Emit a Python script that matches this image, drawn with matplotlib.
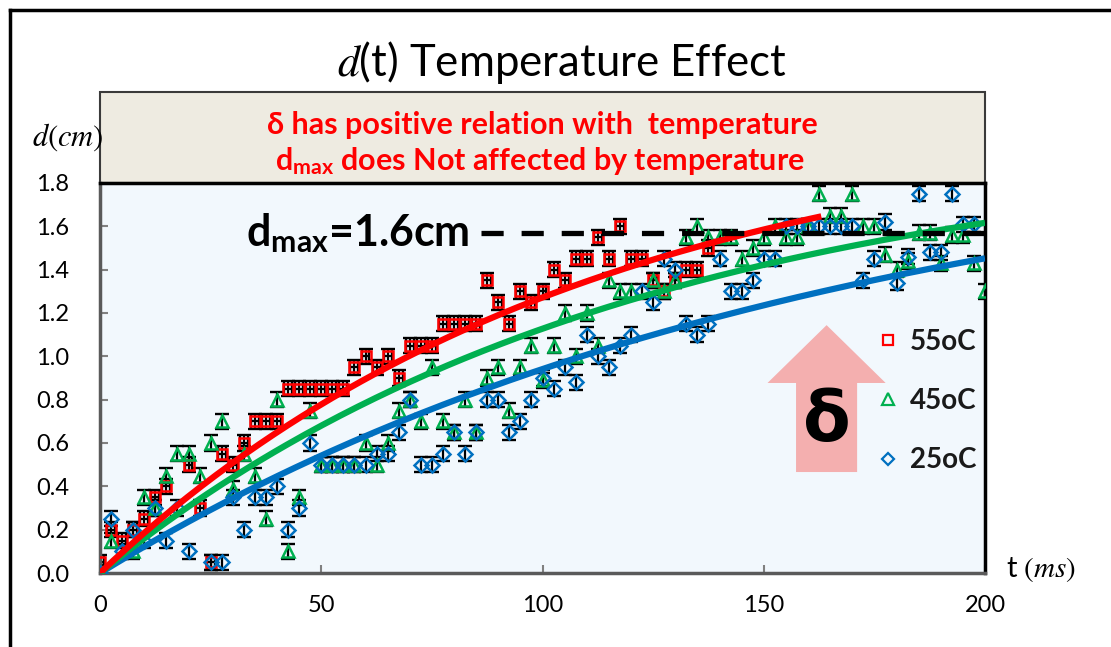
import matplotlib
matplotlib.use("Agg")
import matplotlib.pyplot as plt
import numpy as np
from matplotlib.lines import Line2D
from matplotlib.patches import Rectangle, FancyArrow

plt.rcParams['font.family'] = ['Lato', 'DejaVu Sans']
plt.rcParams['mathtext.fontset'] = 'custom'
plt.rcParams['mathtext.rm'] = 'STIXGeneral'
plt.rcParams['mathtext.it'] = 'STIXGeneral:italic'
plt.rcParams['mathtext.bf'] = 'Lato:bold'

# ---------------- data ----------------
t55 = [0, 2.5, 5, 7.5, 10, 12.5, 15, 20, 22.5, 25, 27.5, 30, 32.5, 35, 37.5, 40,
       42.5, 45, 47.5, 50, 52.5, 55, 57.5, 60, 62.5, 65, 67.5, 70, 72.5, 75,
       77.5, 80, 82.5, 85, 87.5, 90, 92.5, 95, 97.5, 100, 102.5, 105, 107.5, 110,
       112.5, 115, 117.5, 120, 122.5, 125, 127.5, 130, 132.5, 135, 137.5]
d55 = [0.05, 0.20, 0.15, 0.20, 0.25, 0.35, 0.40, 0.50, 0.30, 0.05, 0.55, 0.50, 0.60, 0.70, 0.70, 0.70,
       0.85, 0.85, 0.85, 0.85, 0.85, 0.85, 0.95, 1.00, 0.95, 1.00, 0.90, 1.05, 1.05, 1.05,
       1.15, 1.15, 1.15, 1.15, 1.35, 1.25, 1.15, 1.30, 1.25, 1.30, 1.40, 1.35, 1.45, 1.45,
       1.55, 1.45, 1.60, 1.45, 1.45, 1.35, 1.30, 1.35, 1.40, 1.40, 1.50]

t45 = [0, 2.5, 7.5, 10, 12.5, 15, 17.5, 20, 22.5, 25, 27.5, 30, 32.5, 35, 37.5, 40,
       42.5, 45, 47.5, 50, 52.5, 55, 57.5, 60, 62.5, 65, 67.5, 70, 72.5, 75,
       77.5, 80, 82.5, 85, 87.5, 90, 92.5, 95, 97.5, 100, 102.5, 105, 107.5, 110,
       112.5, 115, 117.5, 120, 125, 127.5, 130, 132.5, 135, 137.5, 140, 142.5, 145,
       147.5, 150, 152.5, 155, 157.5, 160, 162.5, 165, 167.5, 170, 172.5, 175, 177.5,
       180, 182.5, 185, 187.5, 190, 192.5, 195, 197.5, 200]
d45 = [0.00, 0.15, 0.10, 0.35, 0.30, 0.45, 0.55, 0.55, 0.45, 0.60, 0.70, 0.39, 0.55, 0.45, 0.25, 0.80,
       0.10, 0.35, 0.75, 0.50, 0.50, 0.50, 0.50, 0.60, 0.50, 0.60, 0.75, 0.80, 0.70, 0.95,
       0.70, 0.65, 0.80, 0.65, 0.90, 0.95, 0.75, 0.95, 1.05, 0.89, 1.05, 1.20, 1.00, 1.20,
       1.05, 1.35, 1.30, 1.30, 1.35, 1.30, 1.35, 1.55, 1.60, 1.55, 1.55, 1.55, 1.45,
       1.50, 1.55, 1.60, 1.55, 1.55, 1.60, 1.75, 1.65, 1.65, 1.75, 1.60, 1.60, 1.47,
       1.40, 1.44, 1.57, 1.57, 1.43, 1.56, 1.56, 1.43, 1.30]

t25 = [0, 2.5, 5, 7.5, 10, 12.5, 15, 17.5, 20, 25, 27.5, 30, 32.5, 35, 37.5, 40,
       42.5, 45, 47.5, 50, 52.5, 55, 57.5, 60, 62.5, 65, 67.5, 70, 72.5, 75,
       77.5, 80, 82.5, 85, 87.5, 90, 92.5, 95, 97.5, 100, 102.5, 105, 107.5, 110,
       112.5, 115, 117.5, 120, 122.5, 125, 127.5, 130, 132.5, 135, 137.5, 140, 142.5,
       145, 147.5, 150, 152.5, 155, 157.5, 160, 162.5, 165, 167.5, 170, 172.5, 175,
       177.5, 180, 182.5, 185, 187.5, 190, 192.5, 195, 197.5]
d25 = [0.00, 0.25, 0.10, 0.20, 0.15, 0.30, 0.15, 0.30, 0.10, 0.05, 0.05, 0.35, 0.20, 0.35, 0.35, 0.40,
       0.20, 0.30, 0.60, 0.50, 0.50, 0.50, 0.50, 0.50, 0.55, 0.55, 0.65, 0.80, 0.50, 0.50,
       0.55, 0.65, 0.55, 0.65, 0.80, 0.80, 0.65, 0.70, 0.80, 0.90, 0.85, 0.95, 0.88, 1.10,
       1.00, 0.95, 1.05, 1.10, 1.30, 1.25, 1.45, 1.40, 1.15, 1.10, 1.15, 1.45, 1.30,
       1.30, 1.35, 1.45, 1.45, 1.60, 1.60, 1.60, 1.60, 1.60, 1.60, 1.60, 1.35, 1.45,
       1.62, 1.34, 1.46, 1.75, 1.48, 1.48, 1.75, 1.61, 1.61]

err = 0.035
# fitted trend lines d = A (1 - exp(-t/tau)), with end time
fit55 = dict(A=2.13, tau=110.0, tend=163.0)
fit45 = dict(A=1.99, tau=119.6, tend=200.0)
fit25 = dict(A=2.06, tau=163.8, tend=200.0)
DMAX = 1.57

labels = ['55oC', '45oC', '25oC']
c_red, c_green, c_blue = '#FF0000', '#00B050', '#0070C0'

# ---------------- figure ----------------
W, H = 1111, 647
fig = plt.figure(figsize=(W / 100, H / 100), dpi=100)
fig.patch.set_facecolor('white')

L, R, B, T = 100, 985, 573, 183
ax = fig.add_axes([L / W, 1 - B / H, (R - L) / W, (B - T) / H])
ax.set_facecolor('#F2F8FD')
ax.set_xlim(0, 200)
ax.set_ylim(0, 1.8)

series = [(t55, d55, 's', c_red, 7.8, True),
          (t45, d45, '^', c_green, 9.2, False),
          (t25, d25, 'D', c_blue, 7.2, False)]
for tt, dd, mk, col, ms, xe in series:
    ax.errorbar(tt, dd, yerr=err, xerr=(0.9 if xe else None), fmt='none', ecolor='black',
                elinewidth=1.6, capsize=5, capthick=1.7, zorder=2)
for tt, dd, mk, col, ms, xe in series:
    ax.plot(tt, dd, linestyle='none', marker=mk, markersize=ms, markerfacecolor='none',
            markeredgecolor=col, markeredgewidth=1.8, zorder=3)

for fit, col, z in [(fit25, c_blue, 4), (fit45, c_green, 5), (fit55, c_red, 6)]:
    tf = np.linspace(0, fit['tend'], 200)
    ax.plot(tf, fit['A'] * (1 - np.exp(-tf / fit['tau'])), color=col, lw=4.5,
            solid_capstyle='butt', zorder=z)

ax.plot([86, 200], [DMAX, DMAX], color='black', lw=3.8, ls=(0, (4.2, 3.4)), zorder=6)
ax.text(33, DMAX, r'$\mathbf{d_{max}}$=1.6cm', fontsize=31, fontweight='bold',
        ha='left', va='center', zorder=7)

# arrow with delta
arr = FancyArrow(164.2, 0.466, 0, 0.678, width=13.8, head_width=26.7, head_length=0.267,
                 length_includes_head=True, color='#F4AFAF', lw=0, zorder=1.5)
ax.add_patch(arr)
ax.text(164.2, 0.70, 'δ', fontsize=50, fontweight='bold', ha='center', va='center',
        family=['DejaVu Sans'], zorder=7)

# legend
handles = [Line2D([], [], ls='none', marker='s', ms=6.5, mfc='none', mec=c_red, mew=1.6),
           Line2D([], [], ls='none', marker='^', ms=8, mfc='none', mec=c_green, mew=1.6),
           Line2D([], [], ls='none', marker='D', ms=6, mfc='none', mec=c_blue, mew=1.6)]
leg = ax.legend(handles, labels, loc='center left', bbox_to_anchor=(0.868, 0.441),
                frameon=False, prop={'size': 20, 'weight': 'bold'}, labelspacing=1.2,
                handlelength=0.6, handletextpad=0.5, borderaxespad=0)
for txt in leg.get_texts():
    txt.set_color('#1a1a1a')

# axes styling
for s in ['left', 'bottom']:
    ax.spines[s].set_color('#5a5a5a')
    ax.spines[s].set_linewidth(2.5)
for s in ['top', 'right']:
    ax.spines[s].set_color('black')
    ax.spines[s].set_linewidth(2.5)
ax.set_xticks([0, 50, 100, 150, 200])
ax.set_yticks(np.arange(0, 1.81, 0.2))
ax.set_yticklabels([f'{v:.1f}' for v in np.arange(0, 1.81, 0.2)])
ax.tick_params(direction='in', length=6, width=1.5, color='#808080', labelsize=17,
               labelcolor='black')
ax.tick_params(axis='y', pad=22)
ax.tick_params(axis='x', pad=16)

# header box
fig.add_artist(Rectangle((L / W, 1 - T / H), (R - L) / W, (T - 92) / H,
                         transform=fig.transFigure, facecolor='#EEEBE1',
                         edgecolor='#3a3a3a', lw=1.5, zorder=0))
fig.text(542 / W, 1 - 125 / H, 'δ has positive relation with  temperature', color='red',
         fontsize=22, fontweight='bold', ha='center', va='center')
fig.text(540 / W, 1 - 161 / H, r'$\mathbf{d_{max}}$ does Not affected by temperature',
         color='red', fontsize=22, fontweight='bold', ha='center', va='center')

# title and axis labels
fig.text(562 / W, 1 - 62 / H, r'$d$(t) Temperature Effect', fontsize=31.5,
         ha='center', va='center')
fig.text(68 / W, 1 - 137 / H, r'$d(cm)$', fontsize=22, ha='center', va='center')
fig.text(1041 / W, 1 - 570 / H, r't $(ms)$', fontsize=21, ha='center', va='center')

# outer frame
fig.add_artist(Line2D([9.5 / W, 9.5 / W], [0, 1 - 9.5 / H], color='black', lw=2.5,
                      transform=fig.transFigure))
fig.add_artist(Line2D([9.5 / W, 1], [1 - 9.5 / H, 1 - 9.5 / H], color='black', lw=2.5,
                      transform=fig.transFigure))

fig.savefig('out.png', dpi=100)
